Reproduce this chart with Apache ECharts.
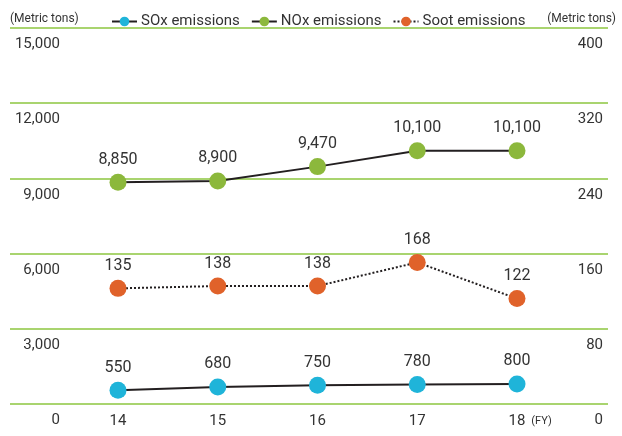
<!DOCTYPE html>
<html>
<head>
<meta charset="utf-8">
<script src="https://cdn.jsdelivr.net/npm/echarts@6/dist/echarts.min.js"></script>
<style>html,body{margin:0;padding:0;background:#fff;}#c{width:622px;height:436px;}</style>
</head>
<body>
<div id="c"></div>
<script>
var categories = ['14', '15', '16', '17', '18'];
var soxValues = [550, 680, 750, 780, 800];
var noxValues = [8850, 8900, 9470, 10100, 10100];
var sootValues = [135, 138, 138, 168, 122];
var leftTicks = {min: 0, max: 15000, interval: 3000};
var rightTicks = {min: 0, max: 400, interval: 80};

var FONT = 'Roboto';
var TXT = '#333';
var GRIDC = '#8cc63f';
function fmt(v){ return String(v).replace(/\B(?=(\d{3})+(?!\d))/g, ','); }

var chart = echarts.init(document.getElementById('c'));
var labelCfg = {show: true, position: 'top', distance: 6, fontSize: 16, color: TXT, fontFamily: FONT, formatter: function(p){return fmt(p.value);}};
chart.setOption({
  animation: false,
  textStyle: {fontFamily: FONT},
  title: [
    {text: '(Metric tons)', left: 5, top: 8, textStyle: {fontSize: 12, fontWeight: 'normal', color: TXT, fontFamily: FONT}},
    {text: '(Metric tons)', right: 1, top: 8, textStyle: {fontSize: 12, fontWeight: 'normal', color: TXT, fontFamily: FONT}}
  ],
  legend: {
    top: 9, left: 106, itemWidth: 25, itemHeight: 12, itemGap: 11,
    textStyle: {fontSize: 15, color: TXT, fontFamily: FONT, padding: [0, 0, 0, -1]},
    data: ['SOx emissions', 'NOx emissions', 'Soot emissions']
  },
  grid: [
    {left: 10, right: 14, top: 28, bottom: 32},
    {left: 118, right: 105, top: 28, bottom: 32}
  ],
  xAxis: [
    {type: 'value', gridIndex: 0, min: 0, max: 1, show: false},
    {type: 'category', gridIndex: 1, data: categories, boundaryGap: false,
     axisLine: {show: false}, axisTick: {show: false},
     axisLabel: {margin: 10, fontSize: 15, color: TXT, fontFamily: FONT},
     name: '(FY)', nameLocation: 'end', nameGap: 12,
     nameTextStyle: {fontSize: 11, color: TXT, fontFamily: FONT, verticalAlign: 'top', padding: [12, 0, 0, 0]}}
  ],
  yAxis: [
    {type: 'value', gridIndex: 0, position: 'left', min: leftTicks.min, max: leftTicks.max, interval: leftTicks.interval,
     axisLine: {show: false}, axisTick: {show: false},
     splitLine: {show: true, lineStyle: {color: GRIDC, width: 1.5}},
     axisLabel: {inside: true, margin: 50, align: 'right', verticalAlign: 'top', padding: [9, 0, 0, 0],
                 fontSize: 15, color: TXT, fontFamily: FONT, formatter: fmt}},
    {type: 'value', gridIndex: 0, position: 'right', min: rightTicks.min, max: rightTicks.max, interval: rightTicks.interval,
     axisLine: {show: false}, axisTick: {show: false}, splitLine: {show: false},
     axisLabel: {inside: true, margin: 5, align: 'right', verticalAlign: 'top', padding: [9, 0, 0, 0],
                 fontSize: 15, color: TXT, fontFamily: FONT}},
    {type: 'value', gridIndex: 1, min: leftTicks.min, max: leftTicks.max, show: false, splitLine: {show: false}},
    {type: 'value', gridIndex: 1, min: -12, max: 466, show: false, splitLine: {show: false}}
  ],
  series: [
    {name: 'SOx emissions', type: 'line', xAxisIndex: 1, yAxisIndex: 2, data: soxValues,
     symbol: 'circle', symbolSize: 17, itemStyle: {color: '#1fb4d9'},
     lineStyle: {color: '#231f20', width: 2}, label: labelCfg},
    {name: 'NOx emissions', type: 'line', xAxisIndex: 1, yAxisIndex: 2, data: noxValues,
     symbol: 'circle', symbolSize: 17, itemStyle: {color: '#8cb83c'},
     lineStyle: {color: '#231f20', width: 2}, label: labelCfg},
    {name: 'Soot emissions', type: 'line', xAxisIndex: 1, yAxisIndex: 3, data: sootValues,
     symbol: 'circle', symbolSize: 17, itemStyle: {color: '#e0622a'},
     lineStyle: {color: '#231f20', width: 2, type: 'dotted'}, label: labelCfg}
  ]
});
</script>
</body>
</html>
